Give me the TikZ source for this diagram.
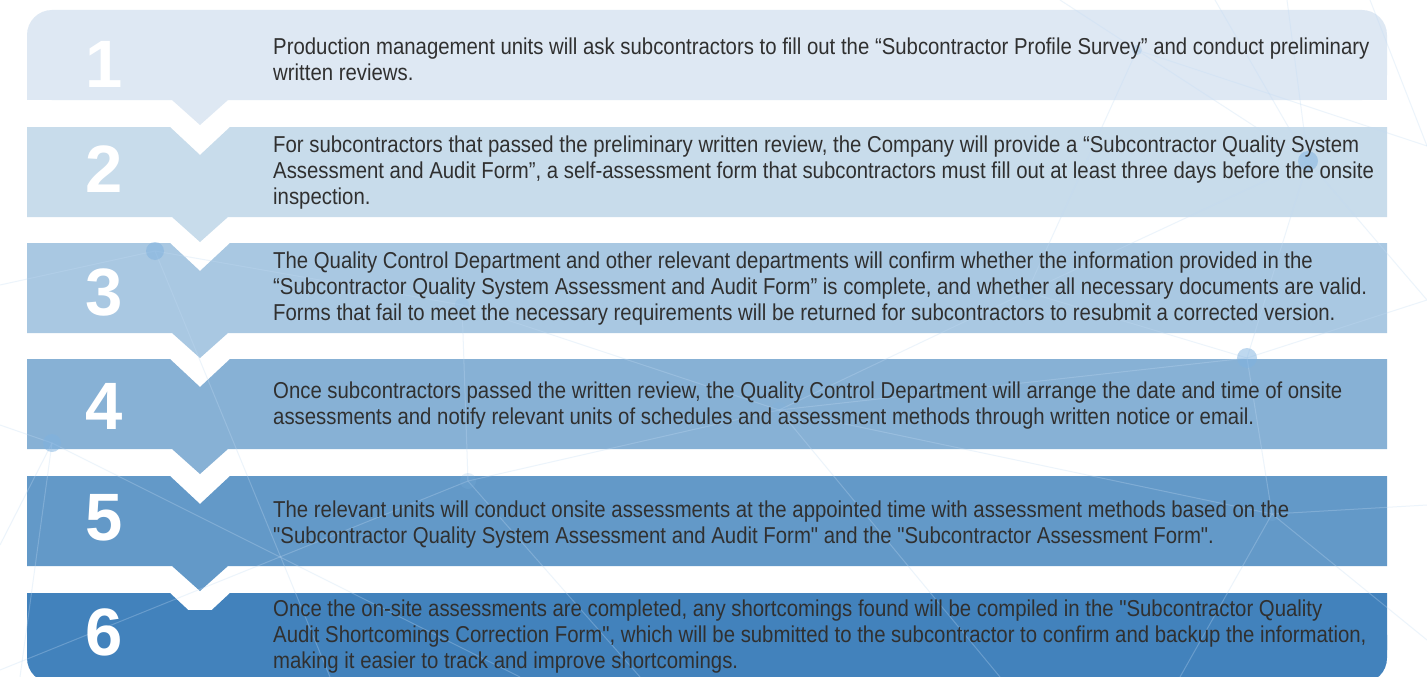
\documentclass[tikz,border=0pt]{standalone}
\usepackage{fontspec}
\setmainfont{Liberation Sans}
\newfontfamily\stepfont[FakeStretch=0.885]{Liberation Sans}
\usepackage{xcolor}
\usetikzlibrary{positioning}
\definecolor{bandA}{HTML}{DEE8F3}
\definecolor{bandB}{HTML}{C8DCEB}
\definecolor{bandC}{HTML}{A9C8E2}
\definecolor{bandD}{HTML}{87B1D5}
\definecolor{bandE}{HTML}{6399C8}
\definecolor{bandF}{HTML}{4282BC}
\definecolor{txtgray}{HTML}{303030}
\definecolor{netblue}{HTML}{C2DBF3}
\definecolor{dotblue}{HTML}{7FB2E0}
\tikzset{
  num/.style={text=white,font=\fontsize{67}{67}\selectfont\bfseries,inner sep=0pt},
  txt/.style={anchor=west,align=left,text=txtgray,font=\stepfont\fontsize{23}{26}\selectfont,inner sep=0pt},
  net/.style={draw=netblue,line width=1pt,opacity=0.3},
  netdot/.style={fill=dotblue,opacity=0.5},
}
\begin{document}
\begin{tikzpicture}[x=1pt,y=-1pt]
\useasboundingbox (0,0) rectangle (1427,677);
\clip (0,0) rectangle (1427,677);
\fill[white] (0,0) rectangle (1427,677);
% first band, rounded on top
\fill[bandA,rounded corners=25pt] (27,10) rectangle (1387,100);
\fill[bandA] (27,60) rectangle (1387,100);
\fill[bandA] (172,100) -- (200,125) -- (228,100) -- cycle;
% middle bands, notch on top and tip below
\foreach \top/\col in {127/bandB,243/bandC,359/bandD,476/bandE}{
  \fill[\col] (27,\top) -- (170,\top) -- (200,\top+28) -- (230,\top) -- (1387,\top)
    -- (1387,\top+90) -- (228,\top+90) -- (200,\top+115) -- (172,\top+90)
    -- (27,\top+90) -- cycle;
}
% last band, rounded below
\fill[bandF,rounded corners=25pt] (27,610) rectangle (1387,683);
\fill[bandF] (27,593) -- (170,593) -- (200,621) -- (230,593) -- (1387,593)
  -- (1387,650) -- (27,650) -- cycle;
% faint network
\coordinate (pA) at (155,251);
\coordinate (pB) at (52,443);
\coordinate (pC) at (1308,161);
\coordinate (pD) at (1247,358);
\coordinate (pE) at (1137,50);
\coordinate (pF) at (462,305);
\coordinate (pG) at (468,481);
\coordinate (pH) at (1027,292);
\coordinate (pI) at (779,410);
\coordinate (pJ) at (1272,514);
\coordinate (e1) at (0,285);
\coordinate (e2) at (0,425);
\coordinate (e3) at (0,545);
\coordinate (e4) at (0,670);
\coordinate (e5) at (1427,146);
\coordinate (e6) at (1427,300);
\coordinate (e7) at (1427,505);
\coordinate (e8) at (1060,0);
\coordinate (e9) at (1287,0);
\coordinate (e10) at (1370,0);
\coordinate (e11) at (330,677);
\coordinate (e12) at (640,677);
\coordinate (e13) at (1000,677);
\coordinate (e14) at (1180,677);
\coordinate (e15) at (1427,640);
\coordinate (e16) at (20,677);
\coordinate (e17) at (1215,0);
\coordinate (e18) at (520,677);
\draw[net] (e1) -- (pA) -- (pF) -- (pG) -- (pI) -- (pH) -- (pE) -- (e8);
\draw[net] (pA) -- (e11);
\draw[net] (e2) -- (pB) -- (e3);
\draw[net] (pB) -- (e16);
\draw[net] (pB) -- (e18);
\draw[net] (e4) -- (pG) -- (e12);
\draw[net] (pF) -- (pI) -- (pD) -- (pJ) -- (pI);
\draw[net] (pI) -- (e13);
\draw[net] (pH) -- (pC) -- (pD) -- (pH);
\draw[net] (pE) -- (pC) -- (e9);
\draw[net] (pE) -- (e5);
\draw[net] (e17) -- (pC) -- (e6) -- (pD);
\draw[net] (e10) -- (e5);
\draw[net] (e7) -- (pJ) -- (e14);
\draw[net] (pJ) -- (e15);
\fill[netdot] (pA) circle (9);
\fill[netdot] (pB) circle (9);
\fill[netdot] (pC) circle (10);
\fill[netdot] (pD) circle (10);
\fill[netdot,opacity=0.25] (pE) circle (5);
\fill[netdot,opacity=0.2] (pF) circle (7);
\fill[netdot,opacity=0.2] (pG) circle (8);
\fill[netdot,opacity=0.2] (pH) circle (8);
\fill[netdot,opacity=0.2] (pI) circle (8);
\fill[netdot,opacity=0.2] (pJ) circle (7);
% step numbers
\node[num] (n1) at (104,64) {1};
\node[num] (n2) at (104,169) {2};
\node[num] (n3) at (104,292) {3};
\node[num] (n4) at (104,406) {4};
\node[num] (n5) at (104,518) {5};
\node[num] (n6) at (104,632) {6};
% step texts
\node[txt] (t1) at (273,59) {Production management units will ask subcontractors to fill out the “Subcontractor Profile Survey” and conduct preliminary\\written reviews.};
\node[txt] (t2) at (273,173) {For subcontractors that passed the preliminary written review, the Company will provide a “Subcontractor Quality System\\Assessment and Audit Form”, a self-assessment form that subcontractors must fill out at least three days before the onsite\\inspection.};
\node[txt] (t3) at (273,289) {The Quality Control Department and other relevant departments will confirm whether the information provided in the\\“Subcontractor Quality System Assessment and Audit Form” is complete, and whether all necessary documents are valid.\\Forms that fail to meet the necessary requirements will be returned for subcontractors to resubmit a corrected version.};
\node[txt] (t4) at (273,406) {Once subcontractors passed the written review, the Quality Control Department will arrange the date and time of onsite\\assessments and notify relevant units of schedules and assessment methods through written notice or email.};
\node[txt] (t5) at (273,525) {The relevant units will conduct onsite assessments at the appointed time with assessment methods based on the\\"Subcontractor Quality System Assessment and Audit Form" and the "Subcontractor Assessment Form".};
\node[txt] (t6) at (273,637) {Once the on-site assessments are completed, any shortcomings found will be compiled in the "Subcontractor Quality\\Audit Shortcomings Correction Form", which will be submitted to the subcontractor to confirm and backup the information,\\making it easier to track and improve shortcomings.};
\end{tikzpicture}
\end{document}
